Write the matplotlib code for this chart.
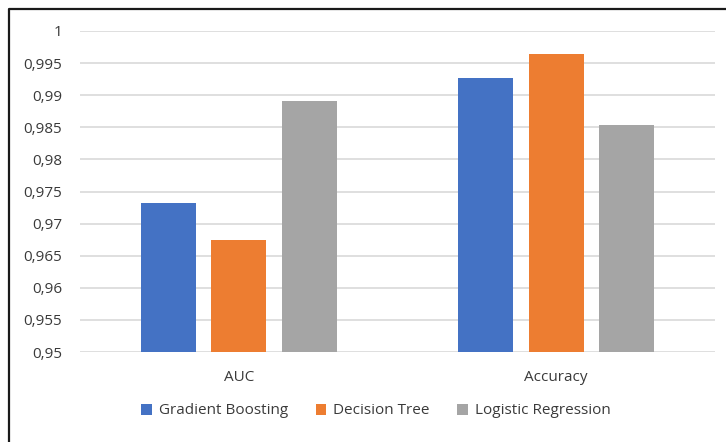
import matplotlib
matplotlib.use("Agg")
import matplotlib.pyplot as plt
from matplotlib.lines import Line2D
from matplotlib.patches import Patch
from matplotlib.ticker import FixedLocator
import numpy as np

categories = ["AUC", "Accuracy"]
series_names = ["Gradient Boosting", "Decision Tree", "Logistic Regression"]
gradient_boosting = [0.9732, 0.9927]
decision_tree = [0.9675, 0.9964]
logistic_regression = [0.9891, 0.9854]
y_ticks = [0.95, 0.955, 0.96, 0.965, 0.97, 0.975, 0.98, 0.985, 0.99, 0.995, 1.0]
y_tick_labels = ["0,95", "0,955", "0,96", "0,965", "0,97", "0,975", "0,98",
                 "0,985", "0,99", "0,995", "1"]

colors = ["#4472C4", "#ED7D31", "#A5A5A5"]
text_color = "#3a3a3a"
plt.rcParams["font.family"] = ["Open Sans", "DejaVu Sans"]

fig = plt.figure(figsize=(7.26, 4.42), dpi=100)
ax = fig.add_axes([80 / 726, 1 - 352 / 442, 635 / 726, 321 / 442])

x = np.arange(len(categories))
offsets = [-0.2224, 0.0, 0.2224]
bar_w = 0.1735
for vals, off, col, name in zip([gradient_boosting, decision_tree, logistic_regression],
                                offsets, colors, series_names):
    ax.bar(x + off, vals, width=bar_w, color=col, label=name, zorder=3)

ax.set_xlim(-0.5, 1.5)
ax.set_ylim(0.95, 1.0)
ax.yaxis.set_major_locator(FixedLocator(y_ticks))
ax.set_yticklabels(y_tick_labels)
ax.set_xticks(x)
ax.set_xticklabels(categories)
ax.tick_params(axis="both", length=0, labelsize=11, labelcolor=text_color)
ax.tick_params(axis="y", pad=13)
ax.tick_params(axis="x", pad=13)
ax.grid(axis="y", color="#D9D9D9", linewidth=1.2, zorder=0)
for s in ax.spines.values():
    s.set_visible(False)

handles = [Patch(facecolor=c, edgecolor="none") for c in colors]
fig.legend(handles, series_names, loc="center", bbox_to_anchor=(376 / 726, 1 - 411 / 442),
           ncol=3, frameon=False, fontsize=11, handlelength=0.7, handleheight=0.7,
           handletextpad=0.45, columnspacing=1.8, labelcolor=text_color)

# outer chart frame (left and top edges)
fx = 8.5 / 726
fy = 1 - 8.5 / 442
fig.add_artist(Line2D([fx, fx, 1.0], [0.0, fy, fy], transform=fig.transFigure,
                      color="#1a1a1a", linewidth=1.6))

fig.savefig("out.png", dpi=100)
